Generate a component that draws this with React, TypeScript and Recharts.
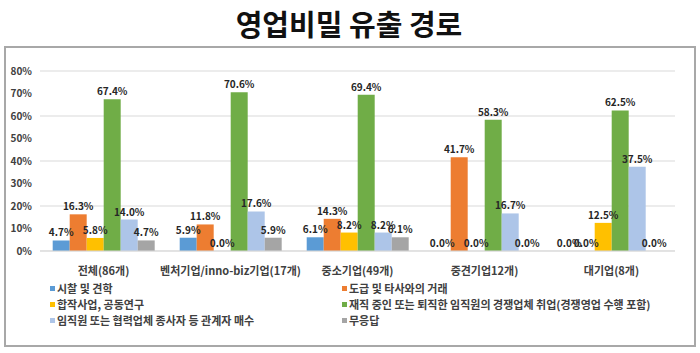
import React from "react";
import {
  BarChart,
  Bar,
  XAxis,
  YAxis,
  CartesianGrid,
  LabelList,
} from "recharts";

const categories = [
  "전체(86개)",
  "벤처기업/inno-biz기업(17개)",
  "중소기업(49개)",
  "중견기업12개)",
  "대기업(8개)",
];

const seriesNames = [
  "시찰 및 견학",
  "도급 및 타사와의 거래",
  "합작사업, 공동연구",
  "재직 중인 또는 퇴직한 임직원의 경쟁업체 취업(경쟁영업 수행 포함)",
  "임직원 또는 협력업체 종사자 등 관계자 매수",
  "무응답",
];

const visit = [4.7, 5.9, 6.1, 0.0, 0.0];
const contract = [16.3, 11.8, 14.3, 41.7, 0.0];
const joint = [5.8, 0.0, 8.2, 0.0, 12.5];
const employee = [67.4, 70.6, 69.4, 58.3, 62.5];
const bribe = [14.0, 17.6, 8.2, 16.7, 37.5];
const noAnswer = [4.7, 5.9, 6.1, 0.0, 0.0];

const yTicks = [0, 10, 20, 30, 40, 50, 60, 70, 80];

const COLORS = ["#5B9BD5", "#ED7D31", "#FFC000", "#70AD47", "#ADC5E8", "#A5A5A5"];
const FONT = "'Noto Sans CJK KR', 'Noto Sans', sans-serif";

const seriesValues = [visit, contract, joint, employee, bribe, noAnswer];

const chartData = categories.map((name, i) => {
  const row: Record<string, string | number> = { name };
  seriesValues.forEach((vals, s) => {
    row["s" + s] = vals[i];
  });
  return row;
});

function LegendGrid() {
  return (
    <div
      style={{
        position: "absolute",
        left: 50,
        top: 281,
        display: "grid",
        gridTemplateColumns: "292px 360px",
        rowGap: 2,
        fontFamily: FONT,
        fontSize: 11,
        fontWeight: 700,
        color: "#404040",
      }}
    >
      {seriesNames.map((n, s) => (
        <div key={n} style={{ display: "flex", alignItems: "center", height: 14 }}>
          <span
            style={{
              width: 5,
              height: 5,
              background: COLORS[s],
              marginRight: 2,
              display: "inline-block",
            }}
          />
          <span>{n}</span>
        </div>
      ))}
    </div>
  );
}

export default function App() {
  return (
    <div
      style={{
        position: "absolute",
        left: 0,
        top: 0,
        width: 700,
        height: 353,
        background: "#fff",
        fontFamily: FONT,
      }}
    >
      <div
        style={{
          position: "absolute",
          left: 0,
          top: 2,
          width: 698,
          textAlign: "center",
          fontSize: 29,
          fontWeight: 700,
          color: "#111",
        }}
      >
        영업비밀 유출 경로
      </div>
      <div
        style={{
          position: "absolute",
          left: 4,
          top: 46,
          width: 688,
          height: 297,
          border: "2px solid #a8a8a8",
        }}
      />
      <div style={{ position: "absolute", left: 0, top: 0 }}>
        <BarChart
          width={700}
          height={353}
          data={chartData}
          margin={{ top: 71, right: 25, left: 10, bottom: 72 }}
          barCategoryGap="10%"
          barGap={0}
        >
          <CartesianGrid vertical={false} stroke="#d9d9d9" />
          <XAxis
            dataKey="name"
            axisLine={{ stroke: "#d9d9d9" }}
            tickLine={false}
            height={30}
            tickMargin={10}
            interval={0}
            tick={{ fontSize: 11, fontWeight: 700, fill: "#404040", fontFamily: FONT }}
          />
          <YAxis
            width={30}
            domain={[0, 80]}
            ticks={yTicks}
            axisLine={false}
            tickLine={false}
            tickSize={0}
            tickMargin={8}
            tickFormatter={(v: number) => `${v}%`}
            tick={{ fontSize: 10, fontWeight: 700, fill: "#404040", fontFamily: FONT }}
          />
          {seriesNames.map((n, s) => (
            <Bar
              key={n}
              dataKey={"s" + s}
              name={n}
              fill={COLORS[s]}
              minPointSize={0.01}
              isAnimationActive={false}
            >
              <LabelList
                dataKey={"s" + s}
                position="top"
                offset={4}
                formatter={(v: any) => `${Number(v).toFixed(1)}%`}
                style={{ fontSize: 10, fontWeight: 700, fill: "#262626", fontFamily: FONT }}
              />
            </Bar>
          ))}
        </BarChart>
      </div>
      <LegendGrid />
    </div>
  );
}
